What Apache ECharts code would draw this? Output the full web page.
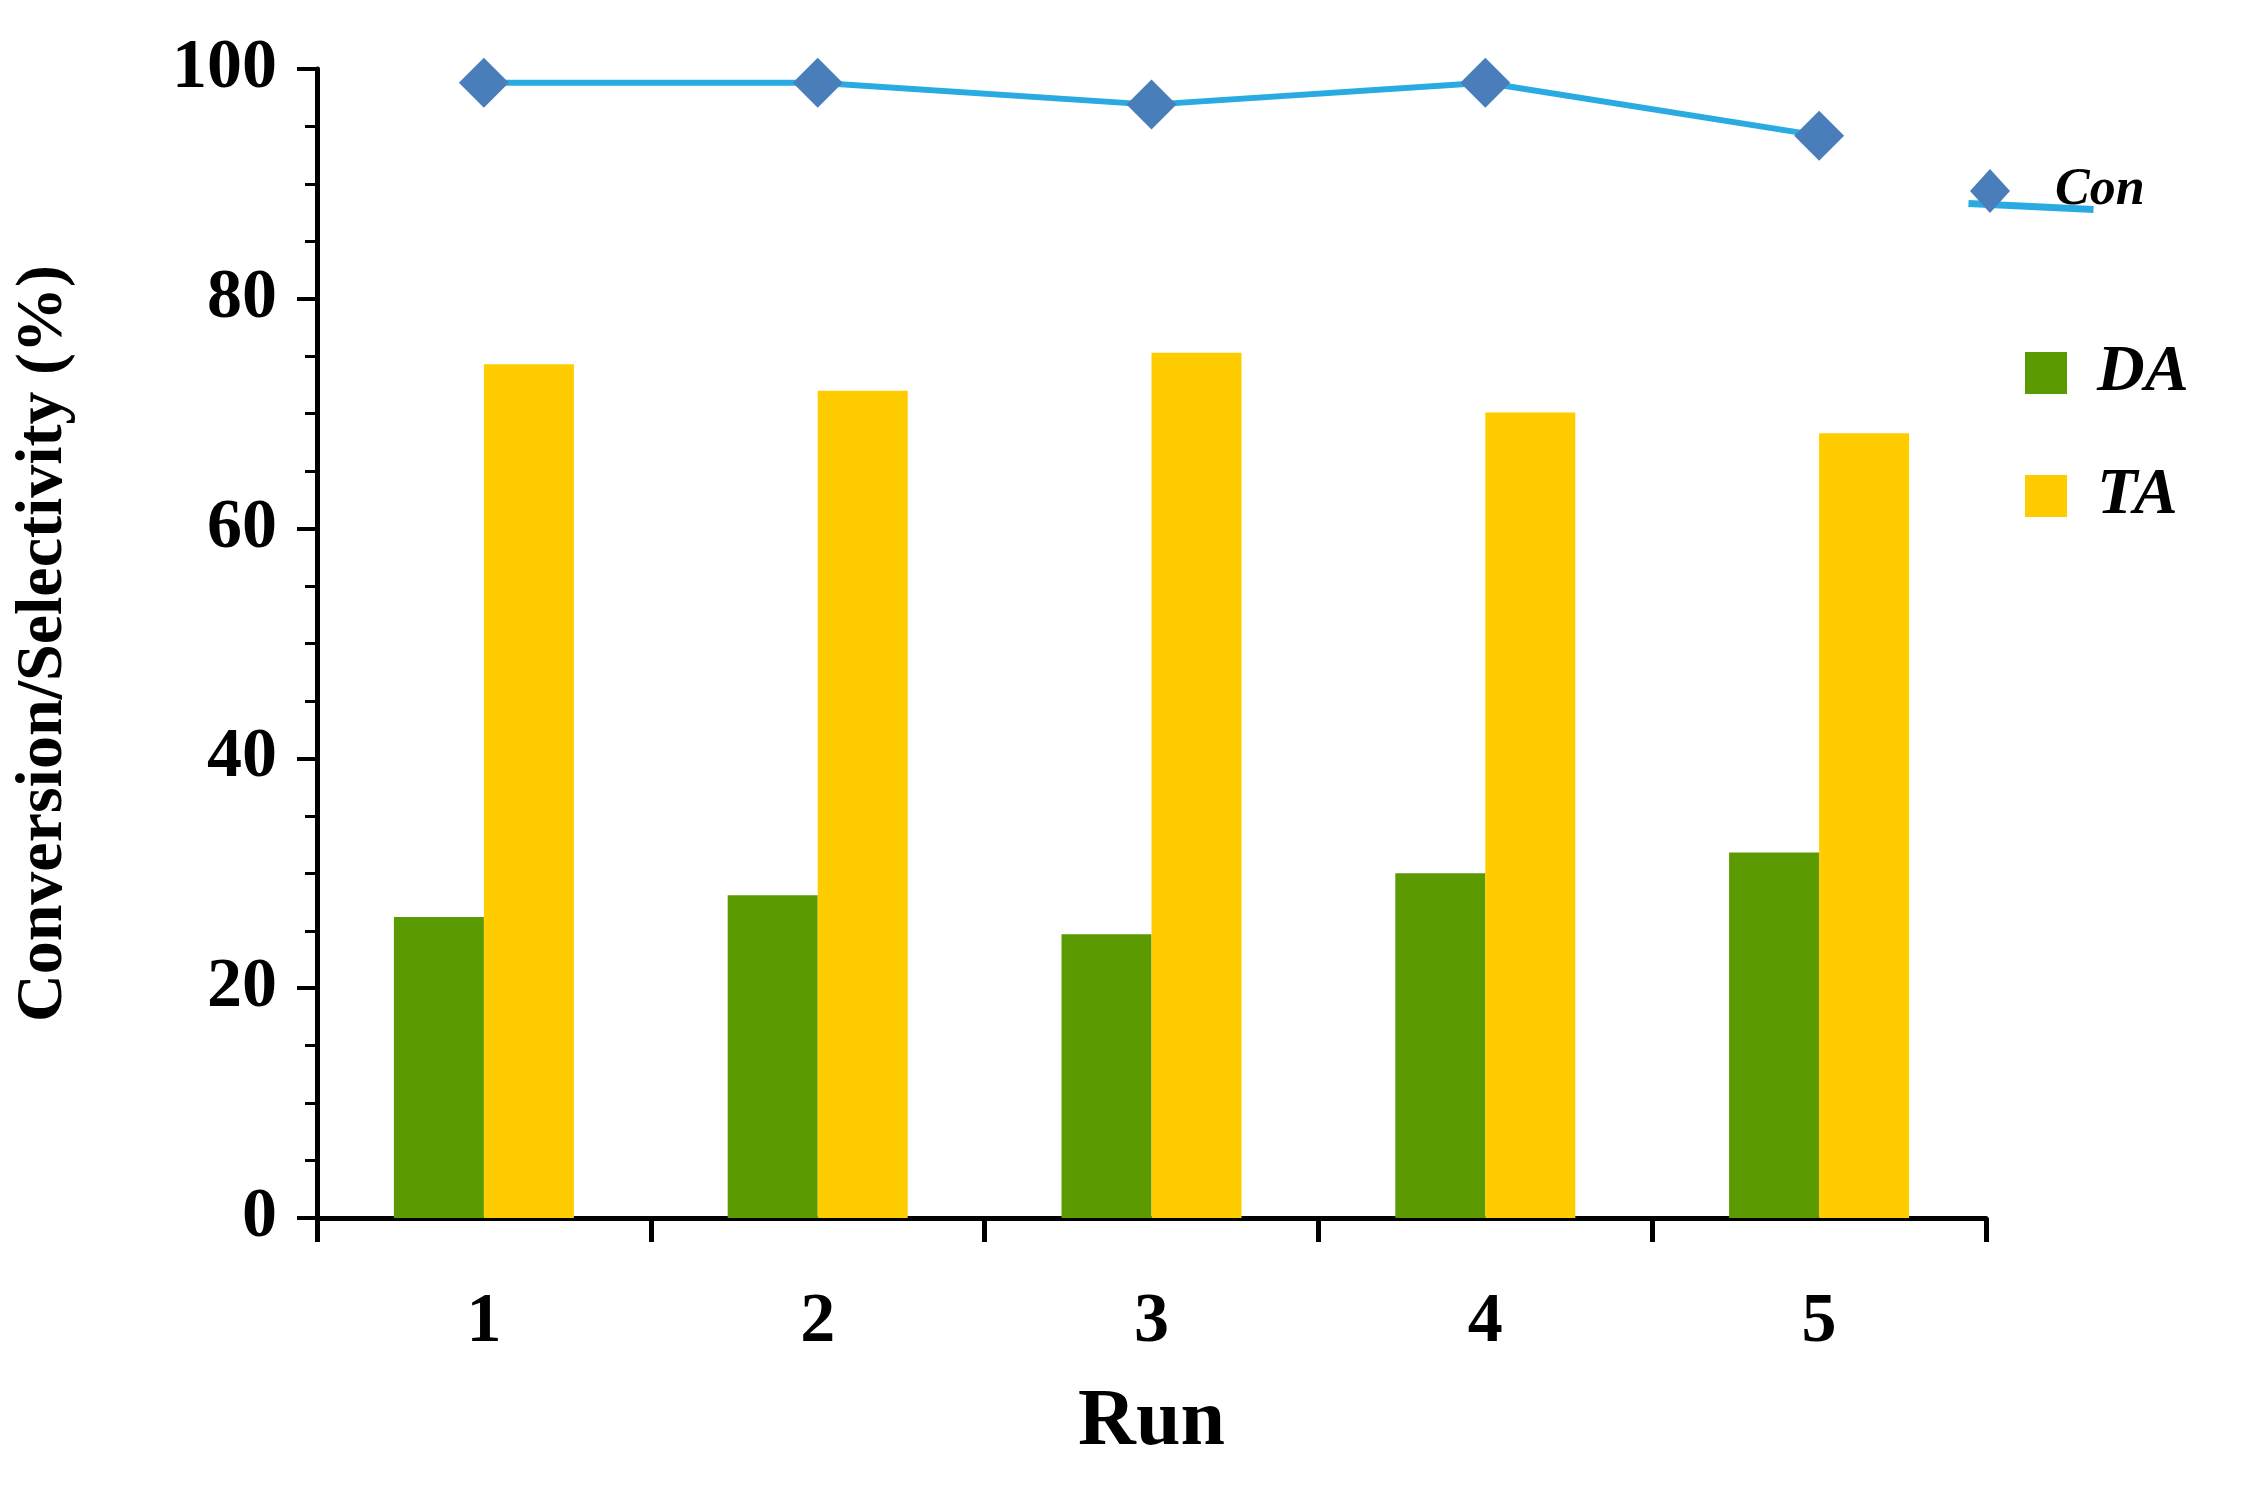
<!DOCTYPE html>
<html>
<head>
<meta charset="utf-8">
<script src="https://cdn.jsdelivr.net/npm/echarts@6/dist/echarts.min.js"></script>
<style>html,body{margin:0;padding:0;background:#fff}#main{width:2248px;height:1499px}</style>
</head>
<body>
<div id="main"></div>
<script>
var runs = ['1', '2', '3', '4', '5'];
var conData = [98.8, 98.8, 96.9, 98.8, 94.2];
var daData = [26.2, 28.1, 24.7, 30.0, 31.8];
var taData = [74.3, 72.0, 75.3, 70.1, 68.3];

var font = '"Liberation Serif", "Times New Roman", serif';
var myChart = echarts.init(document.getElementById('main'));

var legendText = { fontFamily: font, fontWeight: 'bold', fontStyle: 'italic', color: '#000' };

myChart.setOption({
    animation: false,
    grid: { left: 317, top: 69, right: 262, bottom: 281 },
    legend: [
        { data: [{ name: 'Con', icon: 'diamond', itemStyle: { color: '#4a7ebb' } }],
          left: 1965, top: 160, itemWidth: 40, itemHeight: 44,
          textStyle: Object.assign({ fontSize: 52, padding: [0, 0, 30, 40] }, legendText) },
        { data: [{ name: 'DA', icon: 'rect' }], left: 2020, top: 335, itemWidth: 42, itemHeight: 42,
          textStyle: Object.assign({ fontSize: 66, padding: [0, 0, 0, 25] }, legendText) },
        { data: [{ name: 'TA', icon: 'rect' }], left: 2020, top: 458, itemWidth: 42, itemHeight: 42,
          textStyle: Object.assign({ fontSize: 66, padding: [0, 0, 0, 25] }, legendText) }
    ],
    graphic: [{
        type: 'line', left: 1965, top: 200,
        shape: { x1: 0, y1: 0, x2: 125, y2: 6 },
        style: { stroke: '#29abe2', lineWidth: 7 }, z: -1
    }],
    xAxis: {
        type: 'category',
        data: runs,
        name: 'Run',
        nameLocation: 'middle',
        nameGap: 165,
        nameTextStyle: { fontFamily: font, fontWeight: 'bold', fontSize: 80, color: '#000' },
        axisLine: { lineStyle: { color: '#000', width: 5 } },
        axisTick: { show: true, length: 24, lineStyle: { color: '#000', width: 5 } },
        axisLabel: { margin: 70, fontFamily: font, fontWeight: 'bold', fontSize: 70, color: '#000' }
    },
    yAxis: {
        type: 'value',
        min: 0, max: 100, interval: 20,
        name: 'Conversion/Selectivity (%)',
        nameLocation: 'middle',
        nameGap: 240,
        nameTextStyle: { fontFamily: font, fontWeight: 'bold', fontSize: 66, color: '#000' },
        axisLine: { show: true, lineStyle: { color: '#000', width: 5 } },
        axisTick: { show: true, length: 20, lineStyle: { color: '#000', width: 4 } },
        minorTick: { show: true, splitNumber: 4, length: 12, lineStyle: { color: '#000', width: 3 } },
        splitLine: { show: false },
        axisLabel: { margin: 40, fontFamily: font, fontWeight: 'bold', fontSize: 70, color: '#000' }
    },
    series: [
        {
            name: 'DA', type: 'bar', data: daData, barWidth: 90, barGap: '0%',
            itemStyle: { color: '#5b9a00' }
        },
        {
            name: 'TA', type: 'bar', data: taData, barWidth: 90,
            itemStyle: { color: '#ffcc00' }
        },
        {
            name: 'Con', type: 'line', data: conData,
            symbol: 'diamond', symbolSize: 50,
            lineStyle: { color: '#29abe2', width: 6 },
            itemStyle: { color: '#4a7ebb' }
        }
    ]
});
</script>
</body>
</html>
